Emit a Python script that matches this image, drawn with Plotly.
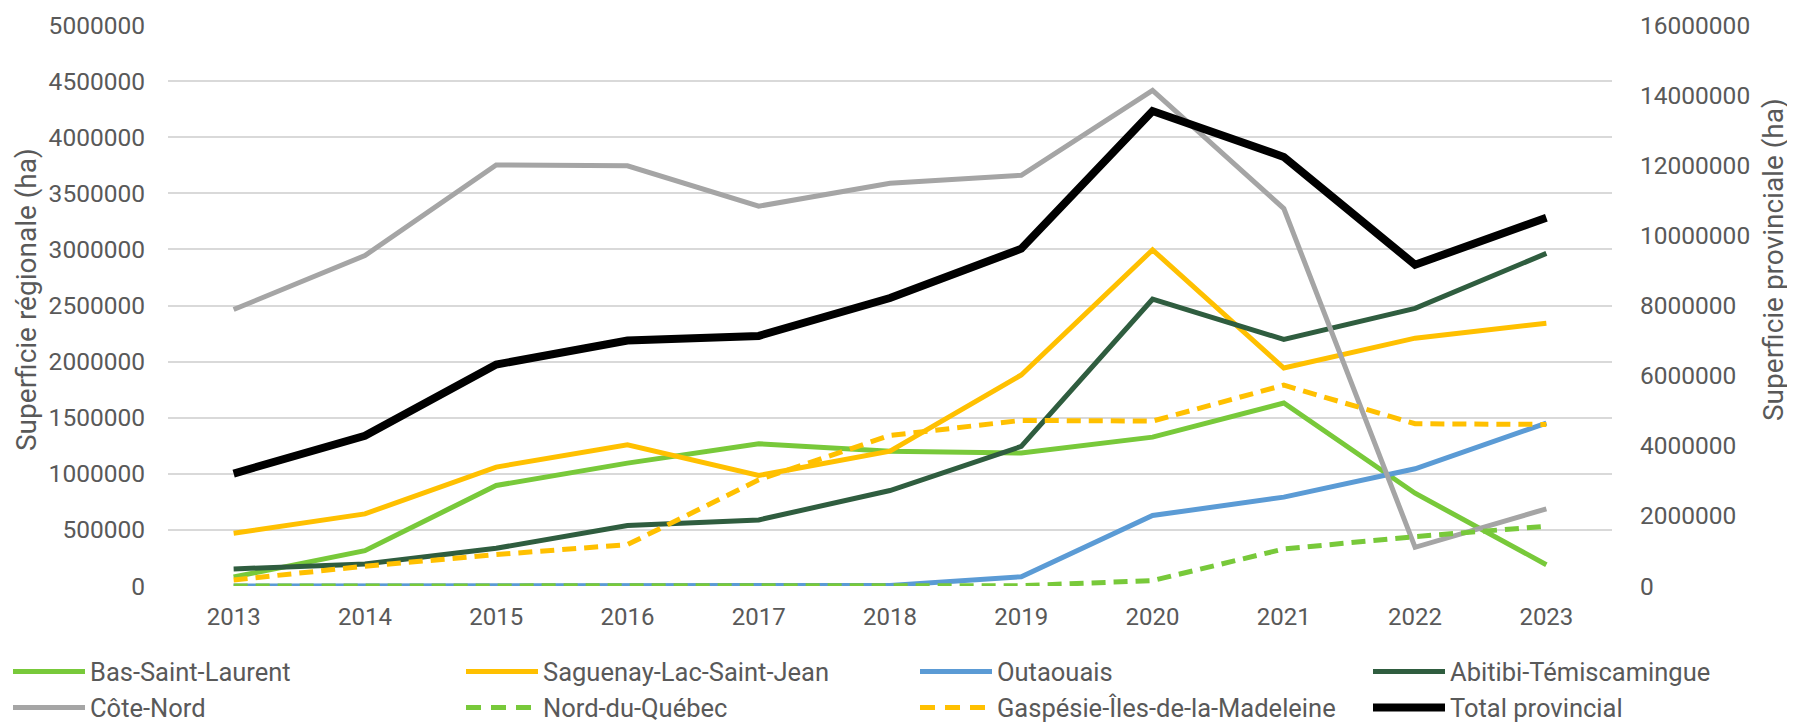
import plotly.graph_objects as go

years = ["2013", "2014", "2015", "2016", "2017", "2018", "2019", "2020", "2021", "2022", "2023"]

bas_saint_laurent = [80000, 315000, 896000, 1095000, 1268000, 1202000, 1185000, 1327000, 1631000, 827000, 190000]
saguenay = [470000, 643000, 1060000, 1259000, 985000, 1202000, 1881000, 2996000, 1943000, 2209000, 2342000]
outaouais = [0, 0, 0, 0, 0, 5000, 83000, 628000, 792000, 1045000, 1452000]
abitibi = [152000, 196000, 336000, 539000, 589000, 851000, 1244000, 2556000, 2198000, 2474000, 2965000]
cote_nord = [2464000, 2945000, 3753000, 3745000, 3385000, 3589000, 3661000, 4417000, 3364000, 345000, 688000]
nord_du_quebec = [0, 0, 0, 0, 0, 0, 3000, 48000, 330000, 440000, 533000]
gaspesie = [54000, 176000, 280000, 369000, 946000, 1342000, 1476000, 1470000, 1790000, 1446000, 1440000]
total_provincial = [3207000, 4286000, 6315000, 7002000, 7133000, 8213000, 9620000, 13546000, 12237000, 9162000, 10503000]

names = ["Bas-Saint-Laurent", "Saguenay-Lac-Saint-Jean", "Outaouais", "Abitibi-Témiscamingue",
         "Côte-Nord", "Nord-du-Québec", "Gaspésie-Îles-de-la-Madeleine", "Total provincial"]
values = [bas_saint_laurent, saguenay, outaouais, abitibi, cote_nord, nord_du_quebec, gaspesie, total_provincial]
colors = ["#78C93A", "#FFC000", "#5B9BD5", "#2F5D3F", "#A5A5A5", "#78C93A", "#FFC000", "#000000"]
dashes = ["solid", "solid", "solid", "solid", "solid", "14px,8px", "14px,8px", "solid"]
widths = [5, 5, 5, 5, 5, 5, 5, 8]
axes = ["y", "y", "y", "y", "y", "y", "y", "y2"]

fig = go.Figure()
for name, vals, color, dash, w, ax in zip(names, values, colors, dashes, widths, axes):
    fig.add_trace(go.Scatter(x=years, y=vals, name=name, mode="lines", yaxis=ax,
                             line=dict(color=color, width=w, dash=dash)))

font_color = "#595959"
W, H = 1787, 716            # page body has an 8px margin
L, R, T, B = 160, 183, 17, 138
pw, ph = W - L - R, H - T - B


def px_to_paper_x(px):
    return (px - L) / pw


def px_to_paper_y(py):
    return (H - B - py) / ph


# manual legend (4 columns x 2 rows)
col_x = [5, 458, 912, 1365]
row_y = [663.5, 699.5]
legend_dashes = ["solid", "solid", "solid", "solid", "solid", "15px,10px", "15px,10px", "solid"]
shapes = []
annotations = []
for i, name in enumerate(names):
    c, r = i % 4, i // 4
    x0 = col_x[c]
    y = row_y[r]
    shapes.append(dict(type="line", xref="paper", yref="paper",
                       x0=px_to_paper_x(x0), x1=px_to_paper_x(x0 + 72),
                       y0=px_to_paper_y(y), y1=px_to_paper_y(y),
                       line=dict(color=colors[i], width=widths[i], dash=legend_dashes[i])))
    annotations.append(dict(xref="paper", yref="paper", x=px_to_paper_x(x0 + 75),
                            y=px_to_paper_y(y), text=name, showarrow=False,
                            xanchor="left", yanchor="middle",
                            font=dict(family="Roboto", size=25.5, color=font_color)))

annotations.append(dict(xref="paper", yref="paper", x=px_to_paper_x(18), y=px_to_paper_y(292),
                        text="Superficie régionale (ha)", textangle=-90, showarrow=False,
                        xanchor="center", yanchor="middle",
                        font=dict(family="Roboto", size=28, color=font_color)))
annotations.append(dict(xref="paper", yref="paper", x=px_to_paper_x(1765), y=px_to_paper_y(252),
                        text="Superficie provinciale (ha)", textangle=-90, showarrow=False,
                        xanchor="center", yanchor="middle",
                        font=dict(family="Roboto", size=28, color=font_color)))

fig.update_layout(
    width=W, height=H,
    margin=dict(l=L, r=R, t=T, b=B, autoexpand=False),
    paper_bgcolor="white", plot_bgcolor="white",
    font=dict(family="Roboto", size=24, color=font_color),
    showlegend=False,
    shapes=shapes,
    annotations=annotations,
    xaxis=dict(type="category", range=[-0.5, 10.5], showgrid=False, zeroline=False,
               showline=False, ticks="", tickfont=dict(size=24, color=font_color),
               ticklabelstandoff=14),
    yaxis=dict(range=[0, 5000000], dtick=500000, tickformat="d", showgrid=True,
               gridcolor="#D9D9D9", gridwidth=1.5, zeroline=False, showline=False, ticks="",
               tickfont=dict(size=24.5, color=font_color), ticklabelstandoff=22),
    yaxis2=dict(range=[0, 16000000], dtick=2000000, tickformat="d", overlaying="y", side="right",
                showgrid=False, zeroline=False, showline=False, ticks="",
                tickfont=dict(size=24.5, color=font_color), ticklabelstandoff=27),
)

fig.write_html("out.html")
